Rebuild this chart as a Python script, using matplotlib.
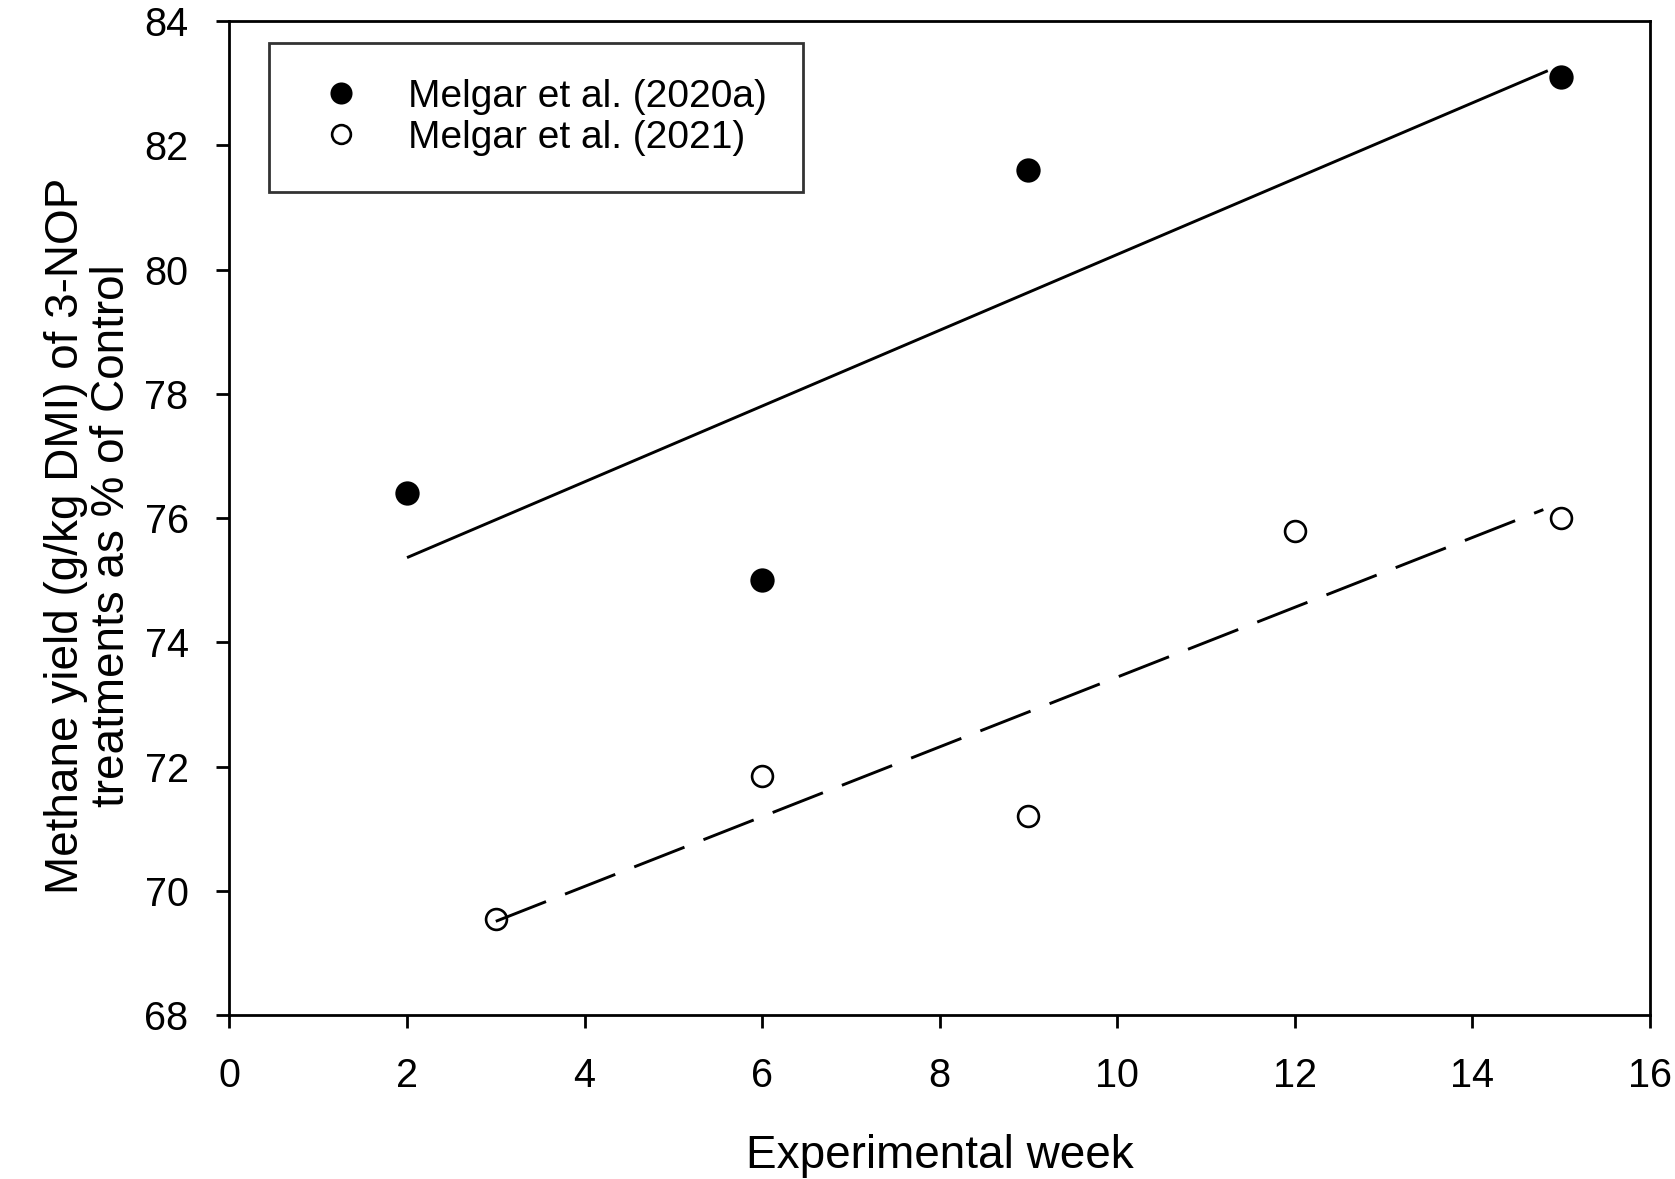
import numpy as np
import matplotlib
matplotlib.use("Agg")
import matplotlib.pyplot as plt

plt.rcParams['font.family'] = ['Liberation Sans', 'DejaVu Sans']

# Data
weeks_2020a = [2, 6, 9, 15]
yield_2020a = [76.4, 75.0, 81.6, 83.1]
weeks_2021 = [3, 6, 9, 12, 15]
yield_2021 = [69.55, 71.85, 71.2, 75.8, 76.0]
fit_range_2020a = [2, 14.85]
fit_range_2021 = [3, 14.8]
label_2020a = "Melgar et al. (2020a)"
label_2021 = "Melgar et al. (2021)"
xticks = [0, 2, 4, 6, 8, 10, 12, 14, 16]
yticks = [68, 70, 72, 74, 76, 78, 80, 82, 84]

fig = plt.figure(figsize=(16.75, 11.79), dpi=100)
ax = fig.add_axes([0.137, 0.139, 0.985 - 0.137, 0.982 - 0.139])

# regression lines
s1, i1 = np.polyfit(weeks_2020a, yield_2020a, 1)
s2, i2 = np.polyfit(weeks_2021, yield_2021, 1)
fx1 = np.array(fit_range_2020a)
fx2 = np.array(fit_range_2021)
ax.plot(fx1, s1 * fx1 + i1, color='black', lw=2.1, solid_capstyle='butt', zorder=2)
ax.plot(fx2, s2 * fx2 + i2, color='black', lw=2.1, dashes=(18.5, 7), zorder=2)

ax.plot(weeks_2020a, yield_2020a, 'o', color='black', ms=16, mew=1.5,
        linestyle='none', label=label_2020a, zorder=3)
ax.plot(weeks_2021, yield_2021, 'o', mfc='none', mec='black', ms=15, mew=1.9,
        linestyle='none', label=label_2021, zorder=3)

ax.set_xlim(0, 16)
ax.set_ylim(68, 84)
ax.set_xticks(xticks)
ax.set_yticks(yticks)
ax.tick_params(direction='out', length=9.5, width=2, labelsize=28.5, color='black')
ax.tick_params(axis='x', pad=21)
ax.tick_params(axis='y', pad=20)
for sp in ax.spines.values():
    sp.set_linewidth(2)

ax.set_xlabel("Experimental week", fontsize=33, labelpad=28)
ax.set_ylabel("Methane yield (g/kg DMI) of 3-NOP\ntreatments as % of Control",
              fontsize=33, linespacing=1.05)
ax.yaxis.set_label_coords(-0.0674, 0.482)

leg = ax.legend(loc='upper left', bbox_to_anchor=(0.0277, 0.978), borderaxespad=0,
                fontsize=28, frameon=True, fancybox=False, edgecolor='black',
                borderpad=0.92, handlelength=1.87, handletextpad=0.8,
                labelspacing=0.13, markerscale=0.9)
leg.get_frame().set_linewidth(2)

fig.savefig("out.png", dpi=100)
